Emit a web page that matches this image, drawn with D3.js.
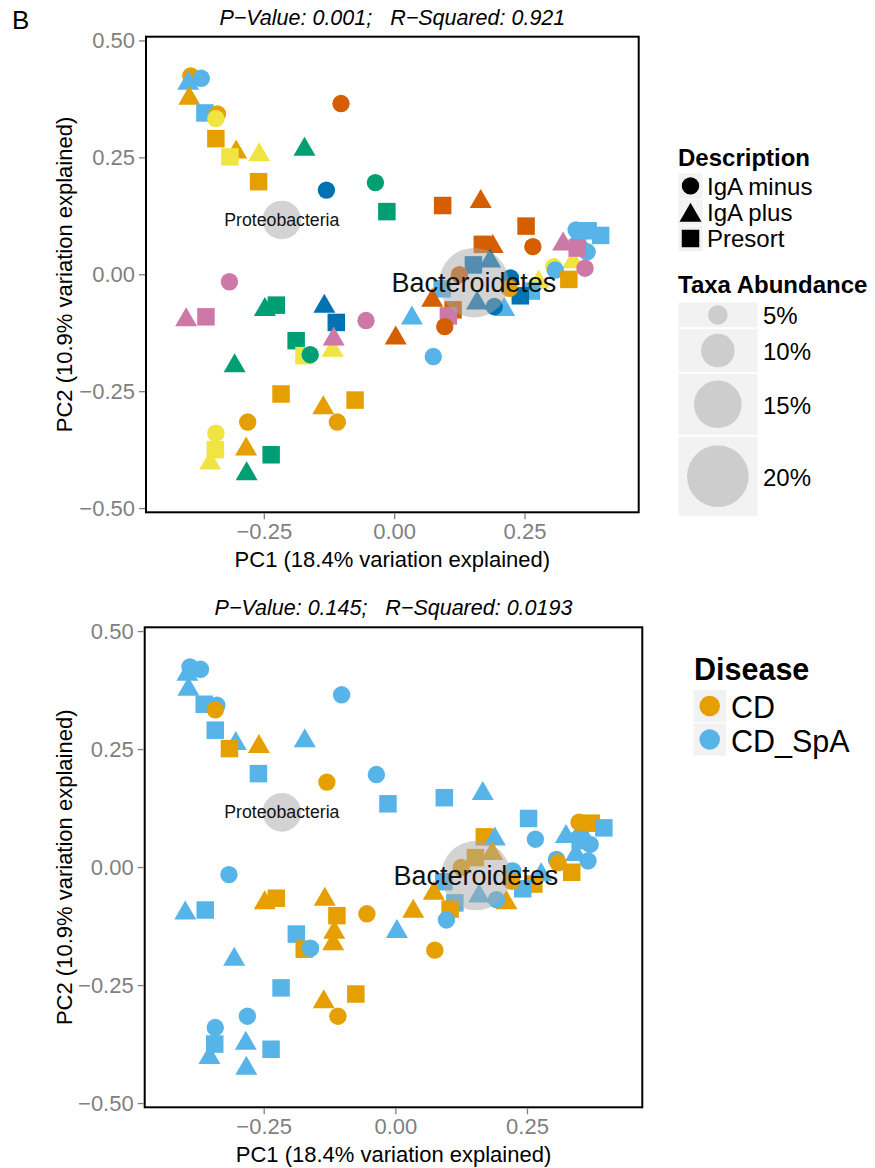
<!DOCTYPE html>
<html>
<head>
<meta charset="utf-8">
<script src="https://cdn.jsdelivr.net/npm/d3@7"></script>
<style>
  body { margin: 0; background: #fff; }
  text { font-family: "Liberation Sans", Arial, Helvetica, sans-serif; }
</style>
</head>
<body>
<svg id="fig" width="875" height="1168"></svg>
<script>
// ---- Sample ordination scores (PC1 / PC2) ----
const pc1 = [
  -0.390, -0.370, -0.395, -0.393, -0.363, -0.339, -0.342, -0.342, -0.303, -0.315,
  -0.259, -0.260, -0.102, -0.172, -0.130, -0.036, -0.014,  0.093,  0.166,  0.253,
   0.266,  0.169,  0.189,  0.352,  0.349,  0.372,  0.396,  0.370,  0.343,  0.324,
   0.351,  0.366,  0.306,  0.309,  0.335,  0.277,  0.263,  0.242,  0.223,  0.221,
   0.211,  0.192,  0.184,  0.152,  0.159,  0.125,  0.092,  0.073,  0.034,  0.003,
   0.113,  0.104,  0.097,  0.075, -0.316, -0.399, -0.361, -0.248, -0.226, -0.134,
  -0.111, -0.118, -0.116, -0.054, -0.188, -0.173, -0.161, -0.306, -0.217, -0.136,
  -0.075, -0.281, -0.109, -0.342, -0.343, -0.353, -0.284, -0.236, -0.283
];
const pc2 = [
   0.424,  0.419,  0.415,  0.383,  0.345,  0.343,  0.333,  0.290,  0.268,  0.251,
   0.262,  0.198,  0.365,  0.274,  0.180,  0.196,  0.134,  0.147,  0.162,  0.103,
   0.059,  0.064,  0.066,  0.083,  0.095,  0.093,  0.083,  0.048,  0.033,  0.071,
   0.056,  0.013,  0.016,  0.009, -0.011, -0.010, -0.036, -0.046, -0.008, -0.030,
  -0.069, -0.069,  0.035,  0.020, -0.055, -0.001, -0.031, -0.049, -0.087, -0.130,
  -0.076, -0.089, -0.112, -0.176, -0.016, -0.091, -0.091, -0.069, -0.066, -0.062,
  -0.103, -0.156, -0.132, -0.099, -0.142, -0.174, -0.172, -0.189, -0.256, -0.279,
  -0.269, -0.316, -0.316, -0.340, -0.375, -0.397, -0.367, -0.386, -0.420
];
const description = [
  "IgA minus","IgA minus","IgA plus","IgA plus","Presort","IgA minus","IgA minus","Presort","IgA plus","Presort",
  "IgA plus","Presort","IgA minus","IgA plus","IgA minus","IgA minus","Presort","Presort","IgA plus","Presort",
  "IgA minus","Presort","IgA plus","IgA plus","IgA minus","Presort","Presort","IgA minus","IgA plus","IgA plus",
  "Presort","IgA minus","IgA minus","IgA minus","Presort","IgA plus","Presort","Presort","IgA minus","IgA minus",
  "IgA plus","IgA minus","IgA plus","Presort","IgA plus","IgA minus","Presort","IgA plus","IgA plus","IgA plus",
  "Presort","Presort","IgA minus","IgA minus","IgA minus","IgA plus","Presort","IgA plus","Presort","IgA plus",
  "Presort","IgA plus","IgA plus","IgA minus","Presort","Presort","IgA minus","IgA plus","Presort","IgA plus",
  "Presort","IgA minus","IgA minus","IgA minus","Presort","IgA plus","IgA plus","Presort","IgA plus"
];
const subject = [
  "S1","S2","S2","S1","S2","S1","S4","S1","S1","S4",
  "S4","S1","S6","S3","S5","S3","S3","S6","S6","S6",
  "S6","S6","S6","S2","S2","S2","S2","S2","S4","S7",
  "S7","S7","S4","S2","S1","S4","S2","S5","S5","S1",
  "S2","S5","S5","S5","S5","S6","S2","S6","S2","S6",
  "S6","S7","S6","S2","S7","S7","S7","S3","S3","S5",
  "S5","S4","S7","S7","S3","S4","S3","S3","S1","S1",
  "S1","S1","S1","S4","S4","S4","S1","S3","S3"
];
const disease = [
  "CD_SpA","CD_SpA","CD_SpA","CD_SpA","CD_SpA","CD_SpA","CD","CD_SpA","CD_SpA","CD",
  "CD","CD_SpA","CD_SpA","CD_SpA","CD","CD_SpA","CD_SpA","CD_SpA","CD_SpA","CD_SpA",
  "CD_SpA","CD","CD_SpA","CD_SpA","CD","CD","CD_SpA","CD_SpA","CD_SpA","CD_SpA",
  "CD_SpA","CD_SpA","CD_SpA","CD","CD","CD_SpA","CD","CD_SpA","CD_SpA","CD",
  "CD","CD_SpA","CD","CD","CD_SpA","CD","CD_SpA","CD","CD","CD_SpA",
  "CD_SpA","CD","CD_SpA","CD","CD_SpA","CD_SpA","CD_SpA","CD","CD","CD",
  "CD","CD","CD","CD","CD_SpA","CD","CD_SpA","CD_SpA","CD_SpA","CD",
  "CD","CD_SpA","CD","CD_SpA","CD_SpA","CD_SpA","CD_SpA","CD_SpA","CD_SpA"
];

const subjects = ["S1","S2","S3","S4","S5","S6","S7"];
const subjectColors = ["#E69F00","#56B4E9","#009E73","#F0E442","#0072B2","#D55E00","#CC79A7"];
const diseases = ["CD","CD_SpA"];
const diseaseColors = ["#E69F00","#56B4E9"];
const descriptions = ["IgA minus","IgA plus","Presort"];

// ---- Taxa overlay (biplot centroids) ----
const taxa = ["Proteobacteria","Bacteroidetes"];
const taxaPC1 = [-0.2155, 0.153];
const taxaPC2 = [0.116, -0.018];
const taxaAbundance = [11.8, 22.8];
const abundanceBreaks = [5, 10, 15, 20];

const xTicks = [-0.25, 0, 0.25];
const yTicks = [-0.5, -0.25, 0, 0.25, 0.5];
const titles = ["P\u2212Value: 0.001;   R\u2212Squared: 0.921",
                "P\u2212Value: 0.145;   R\u2212Squared: 0.0193"];
const xLabel = "PC1 (18.4% variation explained)";
const yLabel = "PC2 (10.9% variation explained)";

// ---- shared scales ----
const subjectColor = d3.scaleOrdinal(subjects, subjectColors);
const diseaseColor = d3.scaleOrdinal(diseases, diseaseColors);
const radius = d3.scaleLinear().domain([5, 20]).range([9.8, 30.8]);
const labelSize = d3.scaleLinear().domain([5, 20]).range([12.0, 24.6]);
const fmt = d3.format(".2f");

function shapePath(desc) {
  if (desc === "IgA minus") {
    const r = 8.7;
    return `M${r},0A${r},${r} 0 1 1 ${-r},0A${r},${r} 0 1 1 ${r},0Z`;
  }
  if (desc === "IgA plus") {
    return "M0,-9.5L11,9.5L-11,9.5Z";
  }
  const s = 8.75;
  return `M${-s},${-s}H${s}V${s}H${-s}Z`;
}

const svg = d3.select("#fig");
svg.append("rect").attr("width", 875).attr("height", 1168).attr("fill", "#fff");

svg.append("text").attr("x", 12).attr("y", 29)
  .attr("font-size", 26).text("B");

function drawPanel(box, colorOf, title) {
  const x = d3.scaleLinear().domain([-0.476, 0.469]).range([box.x0, box.x1]);
  const y = d3.scaleLinear().domain([-0.509, 0.508]).range([box.y1, box.y0]);
  const g = svg.append("g");
  const idx = d3.range(pc1.length);

  // points
  g.append("g").selectAll("path").data(idx).join("path")
    .attr("transform", i => `translate(${x(pc1[i])},${y(pc2[i])})`)
    .attr("d", i => shapePath(description[i]))
    .attr("fill", i => colorOf(i));

  // taxa bubbles
  g.append("g").selectAll("circle").data(taxa).join("circle")
    .attr("cx", (t, k) => x(taxaPC1[k]))
    .attr("cy", (t, k) => y(taxaPC2[k]))
    .attr("r", (t, k) => radius(taxaAbundance[k]))
    .attr("fill", "#a7a7a7").attr("fill-opacity", 0.5);
  g.append("g").selectAll("text").data(taxa).join("text")
    .attr("x", (t, k) => x(taxaPC1[k]))
    .attr("y", (t, k) => y(taxaPC2[k]))
    .attr("text-anchor", "middle").attr("dominant-baseline", "central")
    .attr("font-size", (t, k) => labelSize(taxaAbundance[k]))
    .attr("fill", "#111")
    .text(t => t);

  // frame
  g.append("rect").attr("x", box.x0).attr("y", box.y0)
    .attr("width", box.x1 - box.x0).attr("height", box.y1 - box.y0)
    .attr("fill", "none").attr("stroke", "#000").attr("stroke-width", 2);

  // axes
  const ax = g.append("g").attr("transform", `translate(0,${box.y1 + 1})`)
    .call(d3.axisBottom(x).tickValues(xTicks).tickFormat(fmt).tickSize(6).tickPadding(4));
  const ay = g.append("g").attr("transform", `translate(${box.x0 - 1},0)`)
    .call(d3.axisLeft(y).tickValues(yTicks).tickFormat(fmt).tickSize(6).tickPadding(4));
  [ax, ay].forEach(a => {
    a.select(".domain").remove();
    a.selectAll(".tick line").attr("stroke", "#7f7f7f").attr("stroke-width", 1.3);
    a.selectAll(".tick text").attr("fill", "#7f7f7f").attr("font-size", 22)
      .attr("font-family", "Liberation Sans, Arial, sans-serif");
  });

  // titles
  const cx = (box.x0 + box.x1) / 2;
  g.append("text").attr("x", cx).attr("y", box.y0 - 12)
    .attr("text-anchor", "middle").attr("font-size", 21.5).attr("font-style", "italic")
    .style("white-space", "pre").text(title);
  g.append("text").attr("x", cx).attr("y", box.y1 + 55)
    .attr("text-anchor", "middle").attr("font-size", 22).text(xLabel);
  const cy = (box.y0 + box.y1) / 2;
  g.append("text").attr("transform", `translate(72,${cy}) rotate(-90)`)
    .attr("text-anchor", "middle").attr("font-size", 22).text(yLabel);
}

drawPanel({x0: 146, x1: 638.7, y0: 36.7, y1: 512.3},
          i => subjectColor(subject[i]), titles[0]);
drawPanel({x0: 144.7, x1: 642.3, y0: 627.3, y1: 1107.3},
          i => diseaseColor(disease[i]), titles[1]);

// ---- legend: Description (shape) ----
const lg1 = svg.append("g");
lg1.append("text").attr("x", 678).attr("y", 166)
  .attr("font-size", 24).attr("font-weight", "bold").text("Description");
descriptions.forEach((d, k) => {
  const top = 173.3 + k * 26.3;
  lg1.append("rect").attr("x", 678.3).attr("y", top).attr("width", 24.4).attr("height", 25.3)
    .attr("fill", "#f2f2f2");
  lg1.append("path").attr("transform", `translate(690.5,${top + 12.6})`)
    .attr("d", shapePath(d)).attr("fill", "#000");
  lg1.append("text").attr("x", 707).attr("y", top + 13).attr("dominant-baseline", "central")
    .attr("font-size", 24).text(d);
});

// ---- legend: Taxa Abundance (size) ----
const lg2 = svg.append("g");
lg2.append("text").attr("x", 678).attr("y", 293.3)
  .attr("font-size", 24).attr("font-weight", "bold").text("Taxa Abundance");
const keyH = abundanceBreaks.map(v => Math.max(24.4, radius(v) * 2.6 - 1));
const keyW = d3.max(keyH);
let ky = 302.7;
abundanceBreaks.forEach((v, k) => {
  const h = keyH[k];
  lg2.append("rect").attr("x", 678.3).attr("y", ky).attr("width", keyW).attr("height", h)
    .attr("fill", "#f2f2f2");
  lg2.append("circle").attr("cx", 678.3 + keyW / 2).attr("cy", ky + h / 2)
    .attr("r", radius(v)).attr("fill", "#a7a7a7").attr("fill-opacity", 0.5);
  lg2.append("text").attr("x", 763).attr("y", ky + h / 2 + 1).attr("dominant-baseline", "central")
    .attr("font-size", 24).text(v + "%");
  ky += h + 2;
});

// ---- legend: Disease (colour) ----
const lg3 = svg.append("g");
lg3.append("text").attr("x", 694).attr("y", 680)
  .attr("font-size", 30.5).attr("font-weight", "bold").text("Disease");
diseases.forEach((d, k) => {
  const top = 690 + k * 33.5;
  lg3.append("rect").attr("x", 693.3).attr("y", top).attr("width", 32.7).attr("height", 32)
    .attr("fill", "#f2f2f2");
  lg3.append("circle").attr("cx", 709.7).attr("cy", top + 16).attr("r", 10.3)
    .attr("fill", diseaseColor(d));
  lg3.append("text").attr("x", 731).attr("y", top + 17).attr("dominant-baseline", "central")
    .attr("font-size", 30.5).text(d);
});
</script>
</body>
</html>
